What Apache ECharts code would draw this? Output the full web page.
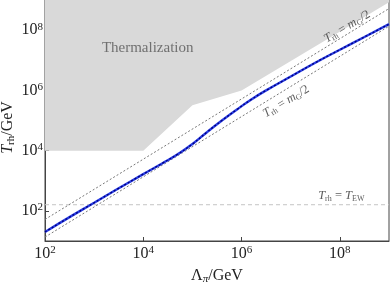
<!DOCTYPE html>
<html><head><meta charset="utf-8">
<script src="https://cdn.jsdelivr.net/npm/echarts@6/dist/echarts.min.js"></script>
<style>html,body{margin:0;padding:0;background:#fff}#c{width:390px;height:283px}</style>
</head><body><div id="c"></div>
<script>
// tick labels
const xTicks = [1e2, 1e4, 1e6, 1e8];
const yTicks = [1e2, 1e4, 1e6, 1e8];
// thermalization region boundary (filled above)
const thermX = [1e2, 1e4, 1e5, 1e6, 1e9];
const thermY = [1e4, 1e4, 3.2e5, 1e6, 8.5e8];
// T_rh = m_G/2 guide lines
const mgX = [1e2, 1e4, 1e6, 1e9];
const mgUpperY = [52, 5.2e3, 5.2e5, 5.2e8];
const mgLowerY = [13.5, 1.35e3, 1.35e5, 1.35e8];
// electroweak temperature
const tEW = 160;
// main curve
const lamX = [1e2, 3.16e2, 1e3, 3.16e3, 1e4, 2.51e4, 5.01e4, 1e5, 2e5, 3.98e5, 7.94e5, 1.58e6, 3.16e6, 1e7, 3.16e7, 1e8, 3.16e8, 1e9];
const trhY = [20, 62, 186, 562, 1660, 3900, 7600, 16500, 41700, 1.0e5, 2.29e5, 5.0e5, 1.0e6, 2.88e6, 8.3e6, 2.24e7, 5.9e7, 1.58e8];

const zip = (a, b) => a.map((v, i) => [v, b[i]]);
const SERIF = '"Liberation Serif","DejaVu Serif",serif';
const supRich = {
  b: {fontFamily: SERIF, fontSize: 16, color: '#222', lineHeight: 18},
  s: {fontFamily: SERIF, fontSize: 11, color: '#222', verticalAlign: 'top', lineHeight: 10}
};
const lblRich = {
  i: {fontFamily: SERIF, fontStyle: 'italic', fontSize: 12.5, color: '#333', lineHeight: 14},
  n: {fontFamily: SERIF, fontSize: 12.5, color: '#333', lineHeight: 14},
  s: {fontFamily: SERIF, fontSize: 8, color: '#333', verticalAlign: 'bottom', lineHeight: 8}
};
const nameRich = {
  i: {fontFamily: SERIF, fontStyle: 'italic', fontSize: 16, color: '#222', lineHeight: 18},
  n: {fontFamily: SERIF, fontSize: 16, color: '#222', lineHeight: 18},
  s: {fontFamily: SERIF, fontSize: 11, color: '#222', verticalAlign: 'bottom', lineHeight: 10},
  si: {fontFamily: SERIF, fontStyle: 'italic', fontSize: 11, color: '#222', verticalAlign: 'bottom', lineHeight: 10}
};
const supFmt = v => '{b|10}{s|' + Math.round(Math.log10(v)) + '}';

const chart = echarts.init(document.getElementById('c'), null, {renderer: 'canvas'});
chart.setOption({
  animation: false,
  grid: {left: 45, right: 1, top: 0, bottom: 42, containLabel: false, outerBoundsMode: 'none',
         show: true, borderColor: '#444', borderWidth: 1, backgroundColor: 'transparent'},
  xAxis: {
    type: 'log', logBase: 10, min: 1e2, max: 1e9,
    axisLine: {show: true, lineStyle: {color: '#444'}},
    axisTick: {show: true, inside: true, length: 4, customValues: xTicks, lineStyle: {color: '#444'}},
    axisLabel: {customValues: xTicks, formatter: supFmt, rich: supRich, margin: 4},
    splitLine: {show: false}, minorTick: {show: false},
    name: '{n|Λ}{si|π}{n|/GeV}', nameLocation: 'middle', nameGap: 26,
    nameTextStyle: {rich: nameRich}
  },
  yAxis: {
    type: 'log', logBase: 10, min: 10, max: 1e9,
    axisLine: {show: true, lineStyle: {color: '#444'}},
    axisTick: {show: true, inside: true, length: 4, customValues: yTicks, lineStyle: {color: '#444'}},
    axisLabel: {customValues: yTicks, formatter: supFmt, rich: supRich, margin: 2},
    splitLine: {show: false}, minorTick: {show: false},
    name: '{i|T}{s|rh}{n|/GeV}', nameLocation: 'middle', nameGap: 28, nameMoveOverlap: false,
    nameTextStyle: {rich: nameRich, padding: [0, 14, 0, 0]}
  },
  series: [
    {type: 'line', data: zip(thermX, thermY), symbol: 'none', silent: true, z: 1,
     lineStyle: {width: 0}, areaStyle: {color: '#d9d9d9', opacity: 1, origin: 'end'}},
    {type: 'line', data: [[1e2, tEW], [1e9, tEW]], symbol: 'none', silent: true, z: 2,
     lineStyle: {color: '#c4c4c4', width: 1, type: [4, 3]}},
    {type: 'line', data: zip(mgX, mgUpperY), symbol: 'none', silent: true, z: 3,
     lineStyle: {color: '#777', width: 1, type: [2, 2]}},
    {type: 'line', data: zip(mgX, mgLowerY), symbol: 'none', silent: true, z: 3,
     lineStyle: {color: '#777', width: 1, type: [2, 2]}},
    {type: 'line', data: zip(lamX, trhY), symbol: 'none', smooth: 0.5, silent: true, z: 4,
     lineStyle: {color: '#2b3fe6', width: 2.4}},
    {type: 'line', data: zip(lamX, trhY), symbol: 'none', smooth: 0.5, silent: true, z: 5,
     lineStyle: {color: '#000080', width: 1.4, type: [2, 2]}},
    {type: 'scatter', symbolSize: 0, silent: true, z: 6,
     label: {show: true, position: 'inside'},
     data: [
       {value: [1.23e4, 2.5e7], label: {formatter: 'Thermalization', fontFamily: SERIF, fontSize: 15, color: '#555'}},
       {value: [1.4e8, 1.3e8], label: {formatter: '{i|T}{s|rh}{n| = }{i|m}{s|G}{n|/2}', rotate: 31, rich: lblRich}},
       {value: [8.1e6, 4.3e5], label: {formatter: '{i|T}{s|rh}{n| = }{i|m}{s|G}{n|/2}', rotate: 31, rich: lblRich}},
       {value: [1.07e8, 316], label: {formatter: '{i|T}{s|rh}{n| = }{i|T}{s|EW}', rich: lblRich}}
     ]}
  ]
});
</script></body></html>
